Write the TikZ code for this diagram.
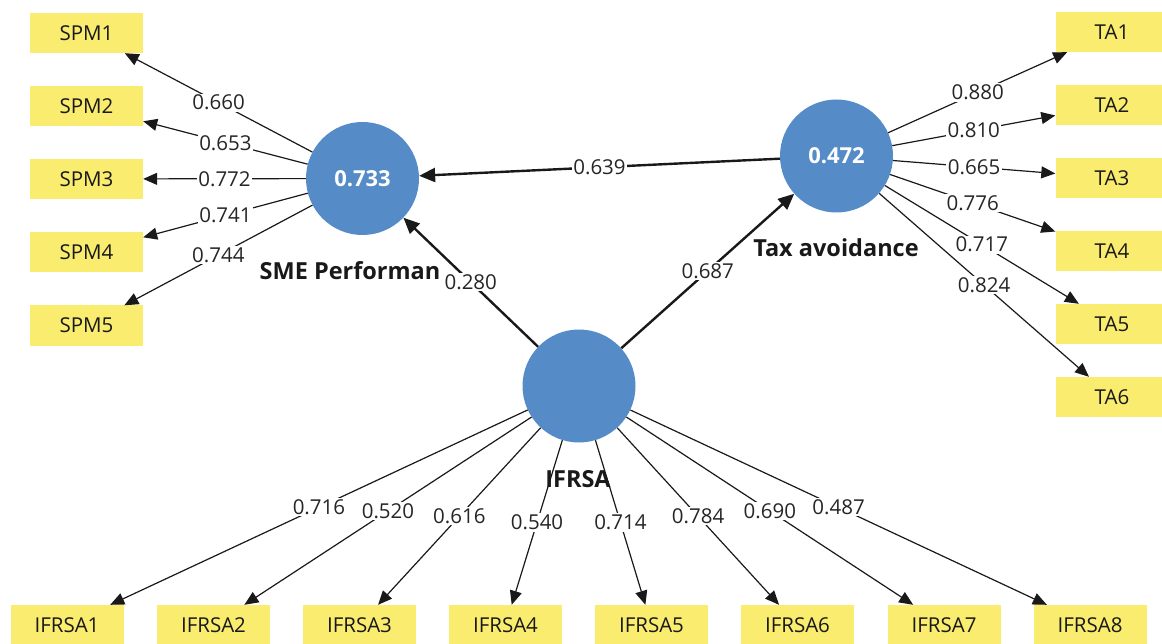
\documentclass[tikz,border=0pt]{standalone}
\usepackage{fontspec}
\setmainfont{Open Sans}
\usetikzlibrary{arrows.meta}
\definecolor{lvblue}{HTML}{558CC8}
\definecolor{indyellow}{HTML}{F9EC6E}
\begin{document}
\begin{tikzpicture}[x=1pt,y=-1pt,
  font=\fontsize{20.5}{24}\selectfont,
  ind/.style={fill=indyellow, minimum width=113pt, minimum height=40pt, inner sep=0pt, text=black!90},
  lv/.style={circle, fill=lvblue, minimum size=113pt, inner sep=0pt, text=white, font=\fontsize{22}{26}\selectfont\bfseries},
  lvname/.style={font=\fontsize{23.5}{28}\selectfont\bfseries, text=black!90, inner sep=0pt},
  loadarrow/.style={-{Triangle[length=14pt,width=12pt]}, line width=1.2pt, black!90},
  structarrow/.style={-{Triangle[length=16pt,width=14pt]}, line width=2.4pt, black!90},
  wlab/.style={fill=white, inner sep=1.5pt, text=black!85}
]
\useasboundingbox (0,0) rectangle (1162,644);

% latent variables
\node[lv] (sme) at (362.5,178.5) {0.733};
\node[lv] (ta) at (836.5,156) {0.472};
\node[lv] (ifrsa) at (579,386) {};

\node[lvname] (smename) at (350,271) {SME Performan};
\node[lvname] (taname) at (836,248) {Tax avoidance};
\node[lvname] (ifrsaname) at (578,479) {IFRSA};

% SPM indicators
\node[ind] (spm1) at (86.5,33) {SPM1};
\node[ind] (spm2) at (86.5,106.5) {SPM2};
\node[ind] (spm3) at (86.5,179) {SPM3};
\node[ind] (spm4) at (86.5,252.5) {SPM4};
\node[ind] (spm5) at (86.5,325.5) {SPM5};

% TA indicators
\node[ind] (ta1) at (1112,32) {TA1};
\node[ind] (ta2) at (1112,105) {TA2};
\node[ind] (ta3) at (1112,178) {TA3};
\node[ind] (ta4) at (1112,251) {TA4};
\node[ind] (ta5) at (1112,324) {TA5};
\node[ind] (ta6) at (1112,397) {TA6};

% IFRSA indicators
\node[ind] (i1) at (67,625) {IFRSA1};
\node[ind] (i2) at (213.5,625) {IFRSA2};
\node[ind] (i3) at (359.5,625) {IFRSA3};
\node[ind] (i4) at (505.5,625) {IFRSA4};
\node[ind] (i5) at (651.5,625) {IFRSA5};
\node[ind] (i6) at (797.5,625) {IFRSA6};
\node[ind] (i7) at (944,625) {IFRSA7};
\node[ind] (i8) at (1090,625) {IFRSA8};

% structural paths
\draw[structarrow] (ta) -- node[wlab]{0.639} (sme);
\draw[structarrow] (ifrsa) -- node[wlab]{0.280} (sme);
\draw[structarrow] (ifrsa) -- node[wlab]{0.687} (ta);

% SME loadings
\draw[loadarrow] (sme) -- node[wlab]{0.660} (spm1);
\draw[loadarrow] (sme) -- node[wlab]{0.653} (spm2);
\draw[loadarrow] (sme) -- node[wlab]{0.772} (spm3);
\draw[loadarrow] (sme) -- node[wlab]{0.741} (spm4);
\draw[loadarrow] (sme) -- node[wlab]{0.744} (spm5);

% TA loadings
\draw[loadarrow] (ta) -- node[wlab]{0.880} (ta1);
\draw[loadarrow] (ta) -- node[wlab]{0.810} (ta2);
\draw[loadarrow] (ta) -- node[wlab]{0.665} (ta3);
\draw[loadarrow] (ta) -- node[wlab]{0.776} (ta4);
\draw[loadarrow] (ta) -- node[wlab]{0.717} (ta5);
\draw[loadarrow] (ta) -- node[wlab]{0.824} (ta6);

% IFRSA loadings
\draw[loadarrow] (ifrsa) -- node[wlab]{0.716} (i1);
\draw[loadarrow] (ifrsa) -- node[wlab]{0.520} (i2);
\draw[loadarrow] (ifrsa) -- node[wlab]{0.616} (i3);
\draw[loadarrow] (ifrsa) -- node[wlab]{0.540} (i4);
\draw[loadarrow] (ifrsa) -- node[wlab]{0.714} (i5);
\draw[loadarrow] (ifrsa) -- node[wlab]{0.784} (i6);
\draw[loadarrow] (ifrsa) -- node[wlab]{0.690} (i7);
\draw[loadarrow] (ifrsa) -- node[wlab]{0.487} (i8);
\end{tikzpicture}
\end{document}
